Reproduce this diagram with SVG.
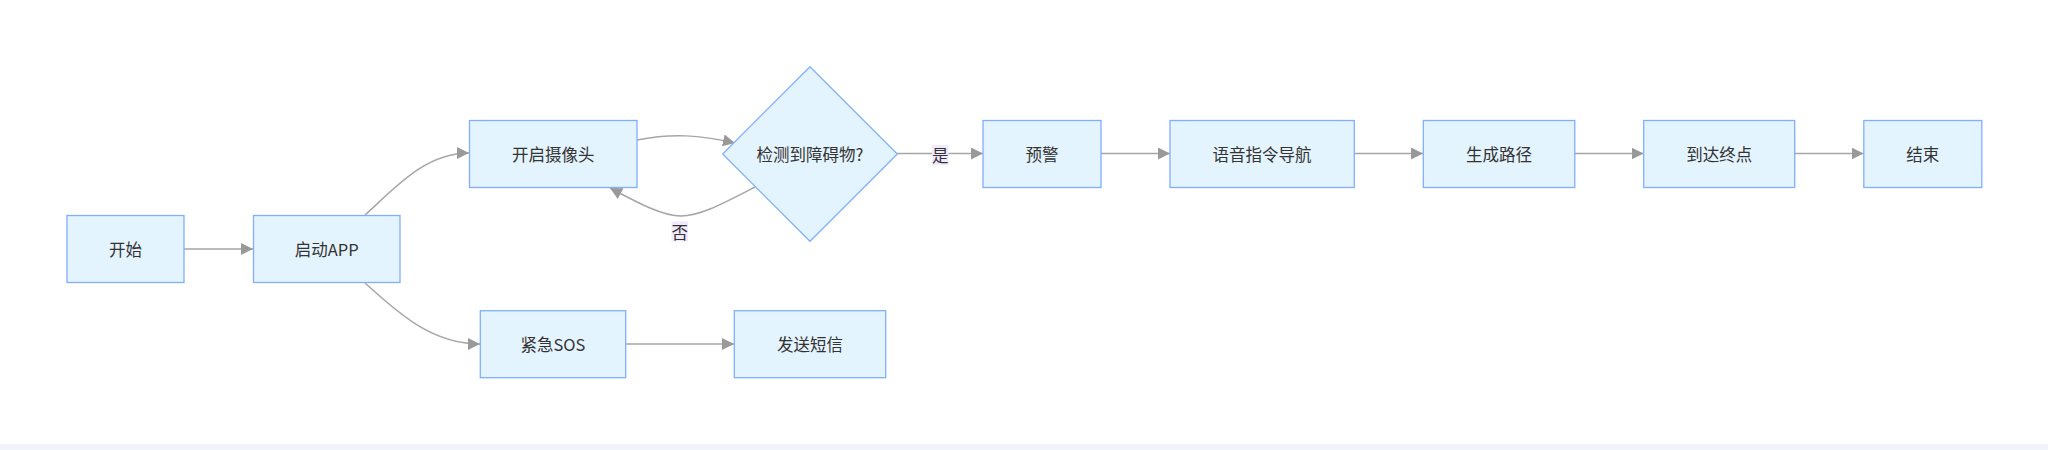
<svg xmlns="http://www.w3.org/2000/svg" width="2048" height="450" viewBox="0 0 2048 450">
<defs>
<marker id="arr" viewBox="0 0 10 10" refX="10" refY="5" markerWidth="12" markerHeight="12" markerUnits="userSpaceOnUse" orient="auto">
<path d="M0,0 L10,5 L0,10 z" fill="#999999"/>
</marker>
<style>
.node rect, .node polygon { fill: #e4f4fe; stroke: #80b0fb; stroke-width: 1.3; }
.node text { font-family: "Noto Sans CJK SC", "Noto Sans", sans-serif; font-size: 16.5px; fill: #333333; text-anchor: middle; dominant-baseline: central; }
.edges path { fill: none; stroke: #a6a6a6; stroke-width: 1.5; marker-end: url(#arr); }
.lbl rect { fill: #f1eafd; stroke: none; }
.lbl text { font-family: "Noto Sans CJK SC", "Noto Sans", sans-serif; font-size: 16.5px; fill: #333333; text-anchor: middle; dominant-baseline: central; }
</style>
</defs>
<rect x="0" y="0" width="2048" height="450" fill="#ffffff"/>
<rect x="0" y="444" width="2048" height="6" fill="#f2f4fc"/>

<g class="edges" id="connectors">
<path d="M184,249 L253,249"/>
<path d="M365,215 C395,188 425,153 469,153"/>
<path d="M365,283 C395,310 430,344 480,344"/>
<path d="M637,140 C672,133 700,135 735,143"/>
<path d="M755,187 C722,204 700,216 681,216 C663,216 640,204 610,188"/>
<path d="M897,153.5 L983,153.5"/>
<path d="M1101,153.5 L1170,153.5"/>
<path d="M1354,153.5 L1423,153.5"/>
<path d="M1575,153.5 L1643.5,153.5"/>
<path d="M1794.5,153.5 L1863.5,153.5"/>
<path d="M626,344 L734,344"/>
</g>

<g class="lbl" id="label-no">
<rect x="671.5" y="221.5" width="16.5" height="20"/>
<text x="679.7" y="231.5">否</text>
</g>
<g class="lbl" id="label-yes">
<rect x="932" y="145" width="16.5" height="20"/>
<text x="940.2" y="155">是</text>
</g>

<g class="node" id="n-start">
<rect x="67" y="215.5" width="117" height="67"/>
<text x="125.5" y="249">开始</text>
</g>
<g class="node" id="n-app">
<rect x="253.5" y="215.5" width="146.5" height="67"/>
<text x="326.7" y="249">启动APP</text>
</g>
<g class="node" id="n-camera">
<rect x="469.5" y="120.5" width="167.5" height="67"/>
<text x="553.2" y="154">开启摄像头</text>
</g>
<g class="node" id="n-detect">
<polygon points="810,66.7 897.3,154 810,241.3 722.7,154"/>
<text x="810" y="154">检测到障碍物?</text>
</g>
<g class="node" id="n-warn">
<rect x="983" y="120.5" width="118" height="67"/>
<text x="1042" y="154">预警</text>
</g>
<g class="node" id="n-voice">
<rect x="1170" y="120.5" width="184.3" height="67"/>
<text x="1262.1" y="154">语音指令导航</text>
</g>
<g class="node" id="n-path">
<rect x="1423.3" y="120.5" width="151.5" height="67"/>
<text x="1499" y="154">生成路径</text>
</g>
<g class="node" id="n-arrive">
<rect x="1643.7" y="120.5" width="151" height="67"/>
<text x="1719.2" y="154">到达终点</text>
</g>
<g class="node" id="n-end">
<rect x="1863.8" y="120.5" width="118" height="67"/>
<text x="1922.8" y="154">结束</text>
</g>
<g class="node" id="n-sos">
<rect x="480.3" y="310.7" width="145.4" height="67"/>
<text x="553" y="344">紧急SOS</text>
</g>
<g class="node" id="n-sms">
<rect x="734.3" y="310.7" width="151.4" height="67"/>
<text x="810" y="344">发送短信</text>
</g>
</svg>
